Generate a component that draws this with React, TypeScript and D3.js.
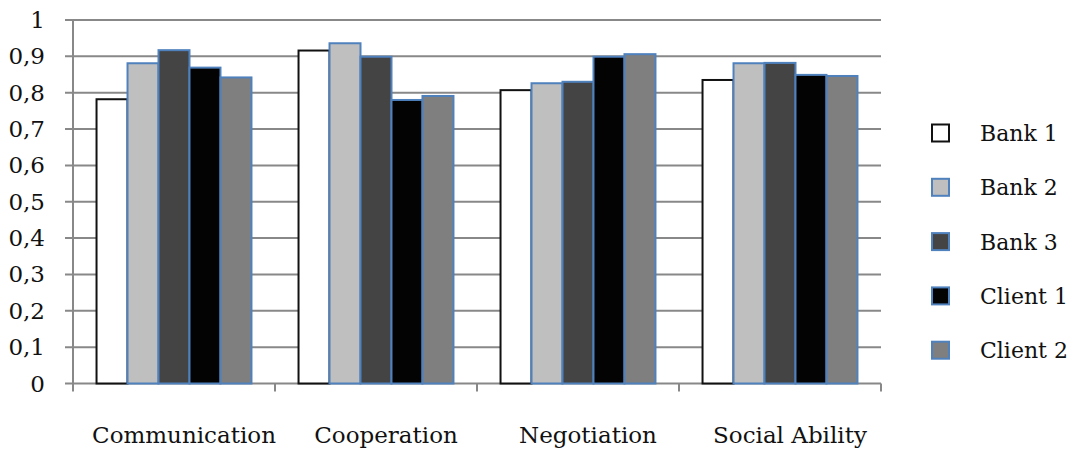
import React from "react";
import * as d3 from "d3";

const categories = ["Communication", "Cooperation", "Negotiation", "Social Ability"];
const seriesNames = ["Bank 1", "Bank 2", "Bank 3", "Client 1", "Client 2"];
const bank1 = [0.782, 0.916, 0.807, 0.835];
const bank2 = [0.881, 0.936, 0.826, 0.881];
const bank3 = [0.917, 0.899, 0.83, 0.882];
const client1 = [0.869, 0.78, 0.899, 0.849];
const client2 = [0.842, 0.791, 0.906, 0.846];
const yTicks = [0, 0.1, 0.2, 0.3, 0.4, 0.5, 0.6, 0.7, 0.8, 0.9, 1];

const seriesValues = [bank1, bank2, bank3, client1, client2];
const fills = ["#ffffff", "#bfbfbf", "#444444", "#030303", "#7f7f7f"];
const strokes = ["#111111", "#4f81bd", "#4f81bd", "#4f81bd", "#4f81bd"];

const W = 1073;
const H = 450;
const plotLeft = 73;
const plotRight = 881;
const plotTop = 20;
const plotBottom = 383.5;
const font = "'DejaVu Serif', serif";
const gridColor = "#888888";

export default function App() {
  const y = d3.scaleLinear().domain([0, 1]).range([plotBottom, plotTop]);
  const p = 0.233;
  const x0 = d3
    .scaleBand<string>()
    .domain(categories)
    .range([plotLeft, plotRight])
    .paddingInner(p)
    .paddingOuter(p / 2);
  const x1 = d3
    .scaleBand<string>()
    .domain(seriesNames)
    .range([0, x0.bandwidth()]);
  const step = x0.step();
  const boundaries = d3.range(categories.length + 1).map((i) => plotLeft + i * step);
  const fmt = (v: number) => (v === 0 || v === 1 ? String(v) : d3.format(".1f")(v).replace(".", ","));

  return (
    <svg
      width={W}
      height={H}
      style={{ position: "absolute", left: 0, top: 0, background: "#fff" }}
    >
      <rect x={0} y={0} width={W} height={H} fill="#fff" />
      {yTicks.map((t) => (
        <g key={t}>
          <line x1={65} x2={plotRight} y1={y(t)} y2={y(t)} stroke={gridColor} strokeWidth={2} />
          <text
            x={45}
            y={y(t) + 8}
            textAnchor="end"
            fontFamily={font}
            fontSize={23}
            fill="#111"
          >
            {fmt(t)}
          </text>
        </g>
      ))}
      <line x1={plotLeft} x2={plotLeft} y1={plotTop} y2={plotBottom} stroke={gridColor} strokeWidth={2} />
      {boundaries.map((b, i) => (
        <line key={i} x1={b} x2={b} y1={plotBottom} y2={plotBottom + 8} stroke={gridColor} strokeWidth={2} />
      ))}
      {categories.map((c, ci) => (
        <g key={c} transform={`translate(${x0(c)},0)`}>
          {seriesNames.map((s, si) => {
            const v = seriesValues[si][ci];
            return (
              <rect
                key={s}
                x={x1(s)}
                y={y(v)}
                width={x1.bandwidth()}
                height={plotBottom - y(v)}
                fill={fills[si]}
                stroke={strokes[si]}
                strokeWidth={2}
              />
            );
          })}
        </g>
      ))}
      {categories.map((c) => (
        <text
          key={c}
          x={(x0(c) as number) + x0.bandwidth() / 2 + 10}
          y={443}
          textAnchor="middle"
          fontFamily={font}
          fontSize={23}
          fill="#111"
        >
          {c}
        </text>
      ))}
      {seriesNames.map((s, si) => {
        const cy = 133 + si * 54.3;
        return (
          <g key={s}>
            <rect
              x={932}
              y={cy - 8.5}
              width={17}
              height={17}
              fill={fills[si]}
              stroke={strokes[si]}
              strokeWidth={2}
            />
            <text x={980} y={cy + 8} fontFamily={font} fontSize={22} fill="#111">
              {s}
            </text>
          </g>
        );
      })}
    </svg>
  );
}
